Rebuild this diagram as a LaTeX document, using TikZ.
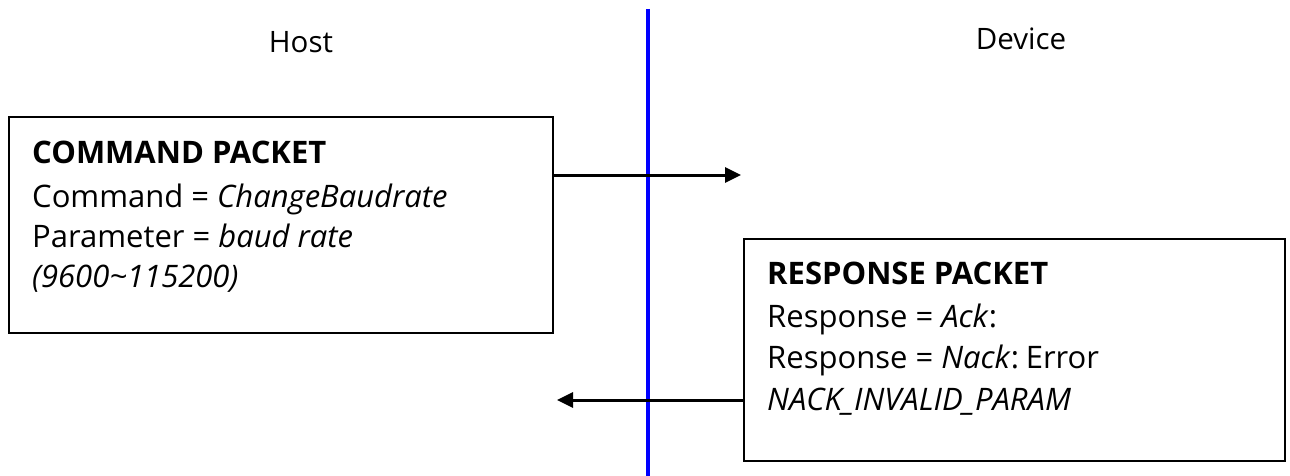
\documentclass[tikz,border=0pt]{standalone}
\usepackage{fontspec}
\setmainfont{Open Sans}
\usetikzlibrary{arrows.meta}

\begin{document}
\begin{tikzpicture}[x=1pt,y=-1pt,
  packet/.style={draw, line width=2.6pt, inner sep=0pt},
  pline/.style={anchor=base west, inner sep=0pt, font=\fontsize{31}{37}\selectfont},
  side/.style={anchor=base, inner sep=0pt, font=\fontsize{29.5}{35}\selectfont},
  flow/.style={line width=3pt, -{Triangle[length=16pt,width=15pt]}}]
  \useasboundingbox (0,0) rectangle (1290,476);

  % the two sides and the wire between them
  \node[side] (host) at (301,53) {Host};
  \node[side] (device) at (1021,50) {Device};
  \coordinate (wiretop) at (648,9);
  \coordinate (wirebot) at (648,476);
  \draw[blue, line width=4pt] (wiretop) -- (wirebot);

  % command packet, sent by the host
  \node[packet, minimum width=544pt, minimum height=216pt] (cmd) at (281,225) {};
  \node[pline] (cmdhead) at (32,164) {\textbf{COMMAND PACKET}};
  \node[pline] (cmdcode) at (32,207) {Command = \textit{ChangeBaudrate}};
  \node[pline] (cmdparam) at (32,247) {Parameter = \textit{baud rate}};
  \node[pline] (cmdrange) at (32,287) {\textit{(9600\textasciitilde 115200)}};

  % response packet, sent back by the device
  \node[packet, minimum width=541pt, minimum height=222pt] (rsp) at (1014.5,350) {};
  \node[pline] (rsphead) at (767,284) {\textbf{RESPONSE PACKET}};
  \node[pline] (rspack) at (767,327) {Response = \textit{Ack}:};
  \node[pline] (rspnack) at (767,368) {Response = \textit{Nack}:\hspace{-4pt} Error};
  \node[pline] (rsperr) at (767,410) {\textit{NACK\_INVALID\_PARAM}};

  % packet flow
  \coordinate (txend) at (741,175);
  \coordinate (rxend) at (557,400);
  \draw[flow] (cmd.east |- txend) -- (txend);
  \draw[flow] (rsp.west |- rxend) -- (rxend);
\end{tikzpicture}
\end{document}
